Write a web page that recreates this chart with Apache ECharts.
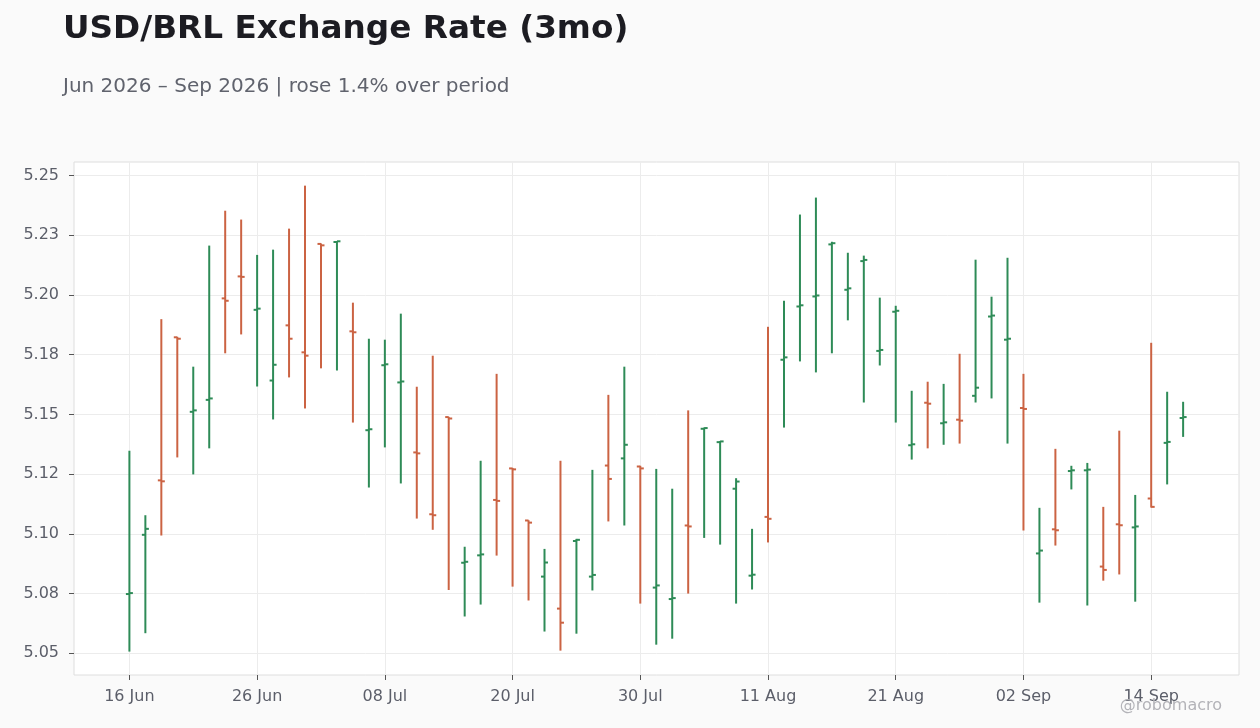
<!DOCTYPE html>
<html>
<head>
<meta charset="utf-8">
<script src="https://cdn.jsdelivr.net/npm/echarts@6/dist/echarts.min.js"></script>
<style>
  html, body { margin: 0; padding: 0; background: #fafafa; }
  #chart { width: 1260px; height: 728px; }
</style>
</head>
<body>
<div id="chart"></div>
<script>
// ---- data ----
const dates = [
  '2026-06-16','2026-06-17','2026-06-18','2026-06-19','2026-06-22','2026-06-23','2026-06-24','2026-06-25','2026-06-26',
  '2026-06-29','2026-06-30','2026-07-01','2026-07-02','2026-07-03','2026-07-06','2026-07-07','2026-07-08','2026-07-09',
  '2026-07-10','2026-07-13','2026-07-14','2026-07-15','2026-07-16','2026-07-17','2026-07-20','2026-07-21','2026-07-22',
  '2026-07-23','2026-07-24','2026-07-27','2026-07-28','2026-07-29','2026-07-30','2026-07-31','2026-08-03','2026-08-04',
  '2026-08-05','2026-08-06','2026-08-07','2026-08-10','2026-08-11','2026-08-12','2026-08-13','2026-08-14','2026-08-17',
  '2026-08-18','2026-08-19','2026-08-20','2026-08-21','2026-08-24','2026-08-25','2026-08-26','2026-08-27','2026-08-28',
  '2026-08-31','2026-09-01','2026-09-02','2026-09-03','2026-09-04','2026-09-07','2026-09-08','2026-09-09','2026-09-10',
  '2026-09-11','2026-09-14','2026-09-15','2026-09-16'
];
const openVals = [
  5.0748, 5.0996, 5.1224, 5.1823, 5.1511, 5.1561, 5.1986, 5.2078, 5.1938, 5.1642,
  5.1873, 5.1760, 5.2214, 5.2222, 5.1848, 5.1434, 5.1706, 5.1634, 5.1341, 5.1082,
  5.1489, 5.0879, 5.0910, 5.1142, 5.1274, 5.1056, 5.0821, 5.0687, 5.0970, 5.0821,
  5.1286, 5.1316, 5.1282, 5.0775, 5.0727, 5.1035, 5.1440, 5.1384, 5.1189, 5.0825,
  5.1071, 5.1729, 5.1952, 5.1994, 5.2212, 5.2022, 5.2142, 5.1766, 5.1930, 5.1371,
  5.1549, 5.1463, 5.1478, 5.1578, 5.1910, 5.1813, 5.1527, 5.0918, 5.1019, 5.1263,
  5.1266, 5.0863, 5.1040, 5.1027, 5.1148, 5.1381, 5.1485
];
const highVals = [
  5.1348, 5.1078, 5.1899, 5.1825, 5.1700, 5.2207, 5.2353, 5.2316, 5.2168, 5.2190,
  5.2278, 5.2458, 5.2216, 5.2226, 5.1968, 5.1817, 5.1813, 5.1922, 5.1616, 5.1746,
  5.1490, 5.0946, 5.1306, 5.1670, 5.1276, 5.1057, 5.0937, 5.1306, 5.0979, 5.1268,
  5.1582, 5.1700, 5.1285, 5.1272, 5.1189, 5.1517, 5.1445, 5.1389, 5.1233, 5.1021,
  5.1867, 5.1976, 5.2337, 5.2408, 5.2223, 5.2177, 5.2165, 5.1989, 5.1955, 5.1599,
  5.1637, 5.1628, 5.1754, 5.2148, 5.1993, 5.2156, 5.1670, 5.1109, 5.1356, 5.1285,
  5.1297, 5.1113, 5.1432, 5.1163, 5.1800, 5.1595, 5.1553
];
const lowVals = [
  5.0507, 5.0584, 5.0993, 5.1320, 5.1249, 5.1358, 5.1756, 5.1835, 5.1617, 5.1479,
  5.1655, 5.1525, 5.1693, 5.1684, 5.1466, 5.1194, 5.1362, 5.1211, 5.1064, 5.1017,
  5.0765, 5.0654, 5.0704, 5.0909, 5.0779, 5.0721, 5.0591, 5.0511, 5.0582, 5.0763,
  5.1052, 5.1035, 5.0708, 5.0536, 5.0561, 5.0750, 5.0983, 5.0955, 5.0708, 5.0767,
  5.0964, 5.1445, 5.1722, 5.1676, 5.1756, 5.1894, 5.1550, 5.1705, 5.1466, 5.1311,
  5.1358, 5.1373, 5.1378, 5.1550, 5.1567, 5.1378, 5.1014, 5.0712, 5.0951, 5.1186,
  5.0700, 5.0804, 5.0830, 5.0716, 5.1110, 5.1207, 5.1406
];
const closeVals = [
  5.0752, 5.1021, 5.1220, 5.1817, 5.1517, 5.1567, 5.1976, 5.2076, 5.1943, 5.1708,
  5.1817, 5.1746, 5.2208, 5.2225, 5.1844, 5.1438, 5.1710, 5.1638, 5.1337, 5.1078,
  5.1483, 5.0883, 5.0914, 5.1138, 5.1270, 5.1047, 5.0880, 5.0628, 5.0975, 5.0828,
  5.1230, 5.1373, 5.1274, 5.0784, 5.0731, 5.1031, 5.1443, 5.1387, 5.1219, 5.0829,
  5.1063, 5.1739, 5.1957, 5.1998, 5.2217, 5.2028, 5.2147, 5.1770, 5.1934, 5.1375,
  5.1545, 5.1467, 5.1474, 5.1612, 5.1914, 5.1817, 5.1523, 5.0930, 5.1015, 5.1266,
  5.1269, 5.0849, 5.1036, 5.1031, 5.1113, 5.1385, 5.1489
];
const xTickIndex = [0, 8, 16, 24, 32, 40, 48, 56, 64];
const yTickValues = [5.05, 5.075, 5.10, 5.125, 5.15, 5.175, 5.20, 5.225, 5.25];
const yTickLabels = ['5.05', '5.08', '5.10', '5.12', '5.15', '5.18', '5.20', '5.23', '5.25'];
const monthNames = ['Jan','Feb','Mar','Apr','May','Jun','Jul','Aug','Sep','Oct','Nov','Dec'];

const titleText = 'USD/BRL Exchange Rate (3mo)';
const subtitleText = 'Jun 2026 \u2013 Sep 2026 | rose 1.4% over period';
const watermarkText = '@robomacro';

// ---- styling ----
const UP = '#2e8b57';
const DOWN = '#cb6343';
const FONT = 'DejaVu Sans';

function fmtDate(s) {
  const p = s.split('-');
  return p[2] + ' ' + monthNames[parseInt(p[1], 10) - 1];
}

const seriesData = dates.map((d, i) => [i, openVals[i], highVals[i], lowVals[i], closeVals[i]]);

function renderItem(params, api) {
  const x = api.value(0);
  const o = api.value(1), h = api.value(2), l = api.value(3), c = api.value(4);
  const pO = api.coord([x, o]);
  const pH = api.coord([x, h]);
  const pL = api.coord([x, l]);
  const pC = api.coord([x, c]);
  const color = c >= o ? UP : DOWN;
  const tick = 3.5;
  const st = { stroke: color, lineWidth: 2 };
  return {
    type: 'group',
    children: [
      { type: 'line', shape: { x1: pH[0], y1: pH[1], x2: pL[0], y2: pL[1] }, style: st },
      { type: 'line', shape: { x1: pO[0] - tick, y1: pO[1], x2: pO[0], y2: pO[1] }, style: st },
      { type: 'line', shape: { x1: pC[0], y1: pC[1], x2: pC[0] + tick, y2: pC[1] }, style: st }
    ]
  };
}

const chart = echarts.init(document.getElementById('chart'), null, { renderer: 'canvas' });
chart.setOption({
  backgroundColor: '#fafafa',
  animation: false,
  title: [
    {
      text: titleText, left: 58, top: 8.5,
      textStyle: { fontFamily: FONT, fontSize: 32.7, fontWeight: 'bold', color: '#1c1c22' }
    },
    {
      text: subtitleText, left: 58, top: 71.5,
      textStyle: { fontFamily: FONT, fontSize: 20, fontWeight: 'normal', color: '#60636d' }
    },
    {
      text: watermarkText, right: 33, top: 692.5,
      textStyle: { fontFamily: FONT, fontSize: 16, fontWeight: 'normal', color: '#b3b3b8' }
    }
  ],
  grid: {
    left: 74, right: 21, top: 162, bottom: 53,
    show: true, backgroundColor: '#ffffff', borderColor: '#dedede', borderWidth: 1
  },
  xAxis: {
    type: 'value',
    min: -3.47,
    max: 69.5,
    axisLine: { show: false, onZero: false },
    axisTick: { show: true, length: 5, lineStyle: { color: '#555' }, customValues: xTickIndex },
    axisLabel: {
      customValues: xTickIndex,
      margin: 14,
      fontFamily: FONT, fontSize: 16, color: '#5b5e69',
      formatter: v => { const i = Math.round(v); return dates[i] ? fmtDate(dates[i]) : ''; }
    },
    splitLine: { show: true, lineStyle: { color: '#ececec', width: 1 } }
  },
  yAxis: {
    type: 'value',
    min: 5.0409,
    max: 5.2557,
    axisLine: { show: false, onZero: false },
    axisTick: { show: true, length: 5, lineStyle: { color: '#555' }, customValues: yTickValues },
    axisLabel: {
      customValues: yTickValues,
      margin: 15,
      fontFamily: FONT, fontSize: 16, color: '#5b5e69',
      formatter: v => {
        const k = yTickValues.findIndex(t => Math.abs(t - v) < 1e-6);
        return k >= 0 ? yTickLabels[k] : '';
      }
    },
    splitLine: { show: true, lineStyle: { color: '#ececec', width: 1 } }
  },
  series: [{
    type: 'custom',
    renderItem: renderItem,
    encode: { x: 0, y: [1, 2, 3, 4] },
    data: seriesData,
    clip: true
  }]
});
</script>
</body>
</html>
